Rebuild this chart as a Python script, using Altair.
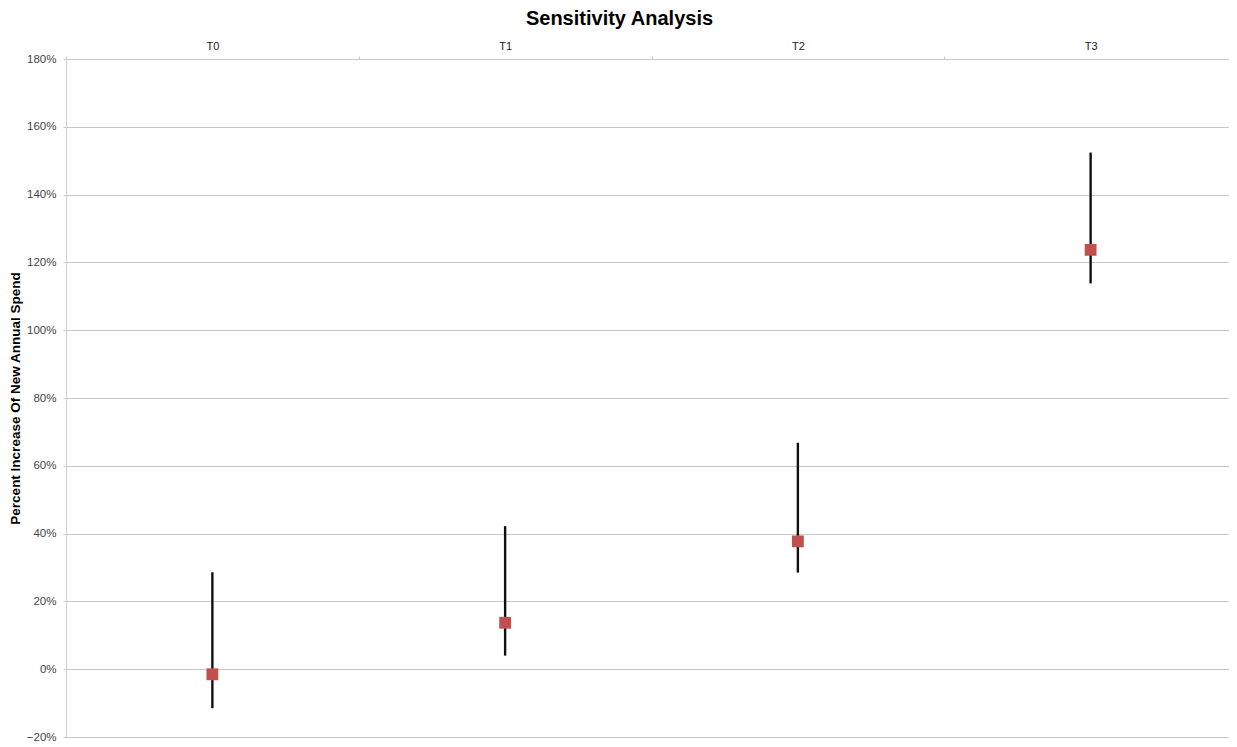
import altair as alt
import pandas as pd

categories = ["T0", "T1", "T2", "T3"]
values = [-0.015, 0.137, 0.377, 1.237]
lows = [-0.115, 0.040, 0.285, 1.138]
highs = [0.286, 0.422, 0.668, 1.524]

df = pd.DataFrame({"cat": categories, "value": values, "low": lows, "high": highs})

FONT = "Liberation Sans"
PLOT_W = 1163
BAND_RANGE = [0, 1171]

x = alt.X("cat:N", sort=categories, title=None,
          scale=alt.Scale(paddingInner=0, paddingOuter=0, range=BAND_RANGE),
          axis=alt.Axis(orient="top", labelAngle=0, labelFontSize=11, labelColor="#222",
                        labelFont=FONT, domain=False, ticks=True, tickBand="extent",
                        tickSize=3, tickColor="#c8c8c8", labelPadding=5, grid=False))

y_scale = alt.Scale(domain=[-0.2, 1.8], nice=False, zero=False)
y_axis = alt.Axis(values=[-0.2 + 0.2 * i for i in range(11)], format=".0%",
                  title="Percent Increase Of New Annual Spend", titleFont=FONT,
                  titleFontSize=13.5, titleFontWeight="bold", titleColor="#000",
                  titlePadding=4, labelFont=FONT, labelFontSize=11.5, labelColor="#444",
                  labelPadding=7, domain=True, domainColor="#d0d0d0", ticks=True,
                  tickSize=3, tickColor="#c8c8c8", grid=True, gridColor="#c8c8c8",
                  gridWidth=1)

base = alt.Chart(df)

bars = base.mark_rule(color="#111", strokeWidth=2.4).encode(
    x=x,
    y=alt.Y("low:Q", scale=y_scale, axis=y_axis),
    y2="high:Q",
)

points = base.mark_square(size=140, color="#c0504d", opacity=1).encode(
    x=alt.X("cat:N", sort=categories),
    y=alt.Y("value:Q", scale=y_scale),
)

chart = (bars + points).properties(
    width=PLOT_W,
    height=678,
    title=alt.TitleParams("Sensitivity Analysis", font=FONT, fontSize=20,
                          fontWeight="bold", color="#000", anchor="middle",
                          dx=-28, offset=11),
    autosize=alt.AutoSizeParams(type="none"),
    padding={"left": 58, "top": 51, "right": 0, "bottom": 9},
).configure_view(stroke=None)

chart.save("out.html", embed_options={"renderer": "svg", "actions": False})
